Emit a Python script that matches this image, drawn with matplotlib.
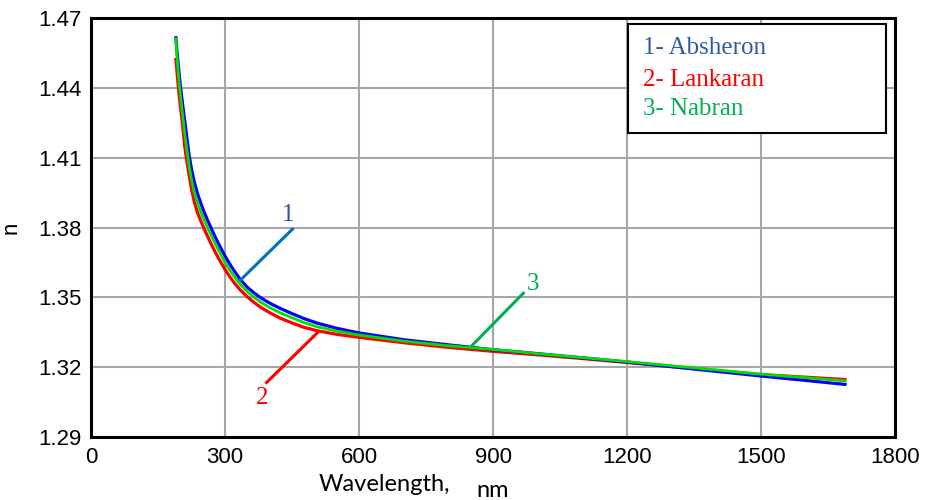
import matplotlib
matplotlib.use("Agg")
import matplotlib.pyplot as plt
from matplotlib.patches import Rectangle

## Data
wl = [190, 193, 196, 200, 205, 210, 215, 220, 226, 232, 238, 245, 252, 260,
      268, 276, 284, 292, 300, 310, 320, 334, 350, 365, 380, 400, 423, 450,
      475, 505, 550, 600, 700, 800, 900, 1000, 1100, 1200, 1300, 1400, 1500,
      1600, 1688]
n_absheron = [1.4615, 1.4545, 1.4485, 1.4410, 1.4330, 1.4255, 1.4180, 1.4105,
              1.4040, 1.3990, 1.3948, 1.3908, 1.3872, 1.3835, 1.3801, 1.3767,
              1.3736, 1.3706, 1.3677, 1.3645, 1.3615, 1.3577, 1.3543, 1.3519,
              1.3498, 1.3475, 1.3453, 1.3430, 1.3410, 1.3390, 1.3367, 1.3347,
              1.3318, 1.3296, 1.3275, 1.3258, 1.3240, 1.3222, 1.3202, 1.3182,
              1.3162, 1.3143, 1.3126]
n_lankaran = [1.4522, 1.4458, 1.4393, 1.4320, 1.4240, 1.4145, 1.4080, 1.4020,
              1.3955, 1.3905, 1.3866, 1.3832, 1.3800, 1.3766, 1.3733, 1.3702,
              1.3673, 1.3646, 1.3620, 1.3590, 1.3564, 1.3532, 1.3502, 1.3478,
              1.3457, 1.3434, 1.3411, 1.3390, 1.3372, 1.3357, 1.3341, 1.3328,
              1.3305, 1.3285, 1.3268, 1.3253, 1.3237, 1.3220, 1.3203, 1.3186,
              1.3168, 1.3157, 1.3147]
n_nabran = [1.4610, 1.4520, 1.4450, 1.4370, 1.4285, 1.4200, 1.4128, 1.4060,
            1.3995, 1.3945, 1.3905, 1.3870, 1.3838, 1.3803, 1.3770, 1.3738,
            1.3708, 1.3679, 1.3650, 1.3619, 1.3591, 1.3556, 1.3524, 1.3500,
            1.3479, 1.3456, 1.3434, 1.3412, 1.3393, 1.3374, 1.3355, 1.3338,
            1.3312, 1.3292, 1.3276, 1.3258, 1.3241, 1.3224, 1.3206, 1.3188,
            1.3170, 1.3155, 1.3141]

x_ticks = [0, 300, 600, 900, 1200, 1500, 1800]
y_ticks = [1.29, 1.32, 1.35, 1.38, 1.41, 1.44, 1.47]
legend_labels = ["1- Absheron", "2- Lankaran", "3- Nabran"]

SANS = ["Liberation Sans", "DejaVu Sans"]
SERIF = ["Liberation Serif", "DejaVu Serif"]

fig = plt.figure(figsize=(9.25, 5), dpi=100)
ax = fig.add_axes([0.0984, 0.126, 0.8692, 0.838])

ax.plot(wl, n_lankaran, color="#ff0000", lw=2.3, zorder=3)
ax.plot(wl, n_absheron, color="#0000ff", lw=2.3, zorder=4)
ax.plot(wl, n_nabran, color="#00e000", lw=2.0, zorder=5)

ax.set_xlim(0, 1800)
ax.set_ylim(1.29, 1.47)
ax.set_xticks(x_ticks)
ax.set_yticks(y_ticks)
ax.set_xticklabels([str(v) for v in x_ticks], family=SANS, fontsize=16)
ax.set_yticklabels([f"{v:.2f}" for v in y_ticks], family=SANS, fontsize=16)
ax.tick_params(length=0, pad=7)
ax.grid(True, color="#a6a6a6", lw=1.5)
ax.set_axisbelow(True)
for s in ax.spines.values():
    s.set_linewidth(2.2)
    s.set_color("black")

ax.set_ylabel("n", family=SANS, fontsize=16, labelpad=12)
fig.text(0.416, 0.031, "Wavelength,", family=["Lato", "DejaVu Sans"],
         fontsize=17, ha="center", va="center")
fig.text(0.533, 0.019, "nm", family=["Lato", "DejaVu Sans"], fontsize=17,
         ha="center", va="center")

# curve markers
ax.plot([335, 451], [1.3575, 1.3793], color="#0070c0", lw=2.2, zorder=6)
ax.text(442, 1.3855, "1", color="#2e54a1", family=SERIF, fontsize=18,
        ha="center", va="center")
ax.plot([509, 393], [1.3352, 1.3134], color="#ff0000", lw=2.2, zorder=6)
ax.text(384, 1.3066, "2", color="#ff0000", family=SERIF, fontsize=18,
        ha="center", va="center")
ax.plot([854, 968], [1.3295, 1.3518], color="#00b050", lw=2.2, zorder=6)
ax.text(990, 1.3556, "3", color="#00b050", family=SERIF, fontsize=18,
        ha="center", va="center")

# legend box
ax.add_patch(Rectangle((0.6675, 0.7248), 0.3209, 0.2602, transform=ax.transAxes,
                       facecolor="white", edgecolor="black", lw=1.5, zorder=7))
for lbl, col, yy in zip(legend_labels, ["#2e5aa8", "#ff0000", "#00b050"],
                        [0.929, 0.852, 0.783]):
    ax.text(0.6866, yy, lbl, color=col, family=SERIF, fontsize=18,
            transform=ax.transAxes, ha="left", va="center", zorder=8)

fig.savefig("out.png", dpi=100)
